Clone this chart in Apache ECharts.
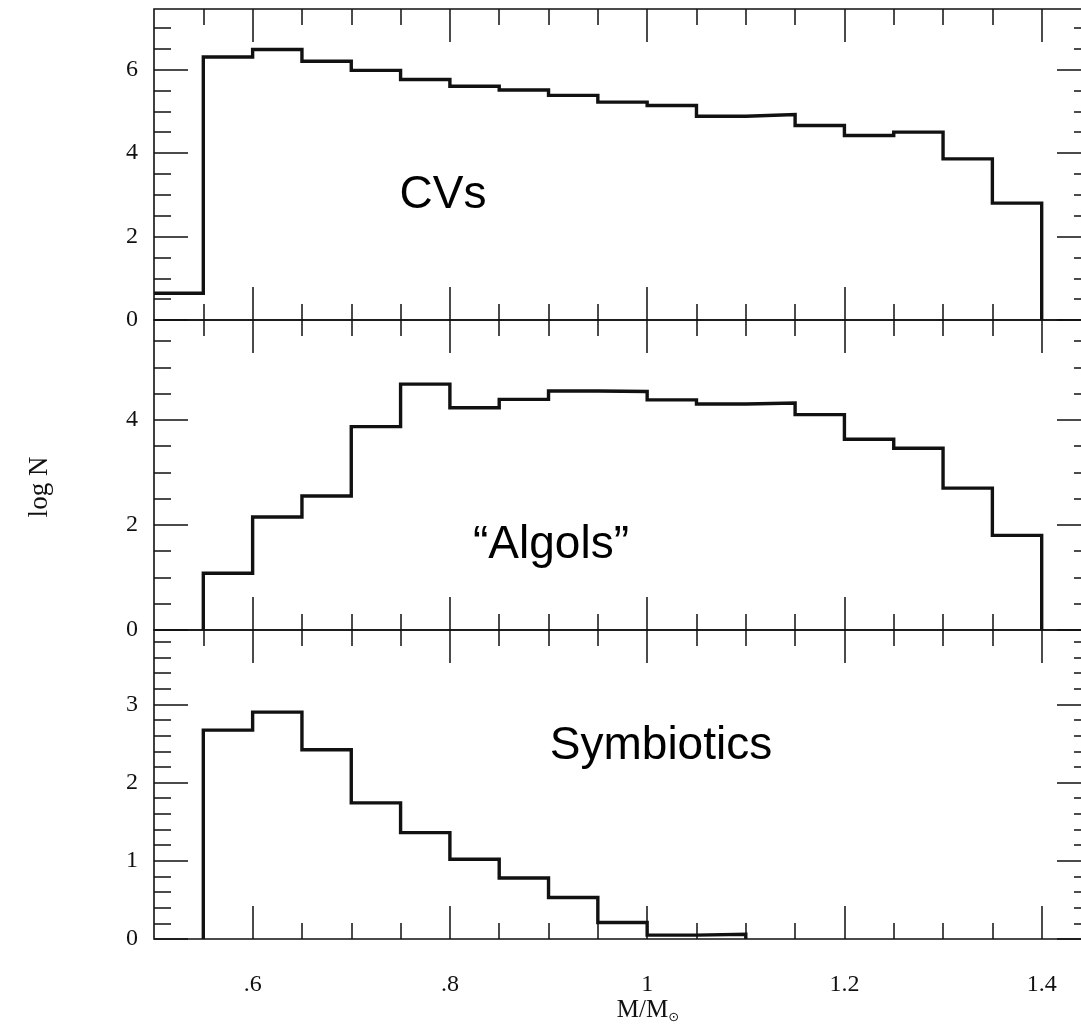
<!DOCTYPE html>
<html>
<head>
<meta charset="utf-8">
<script src="https://cdn.jsdelivr.net/npm/echarts@6/dist/echarts.min.js"></script>
<style>
html,body{margin:0;padding:0;background:#fff;}
#chart{width:1081px;height:1025px;}
</style>
</head>
<body>
<div id="chart"></div>
<script>
// ---- data (log N per 0.05 Msun bin; bin left edges) ----
const binLeft = [0.50, 0.55, 0.60, 0.65, 0.70, 0.75, 0.80, 0.85, 0.90, 0.95, 1.00, 1.05, 1.10, 1.15, 1.20, 1.25, 1.30, 1.35];
const binWidth = 0.05;
const cvsLogN        = [0.64, 6.30, 6.48, 6.20, 5.98, 5.76, 5.60, 5.51, 5.38, 5.22, 5.14, 4.88, 4.92, 4.66, 4.42, 4.50, 3.86, 2.80];
const algolsLogN     = [null, 1.08, 2.15, 2.55, 3.87, 4.68, 4.23, 4.39, 4.55, 4.54, 4.38, 4.30, 4.32, 4.10, 3.63, 3.46, 2.70, 1.80];
const symbioticsLogN = [null, 2.67, 2.90, 2.42, 1.74, 1.36, 1.02, 0.78, 0.53, 0.21, 0.05, 0.06, null, null, null, null, null, null];
const panelNames = ['CVs', '\u201CAlgols\u201D', 'Symbiotics'];

const xMin = 0.5, xMax = 1.45;
const xMajorTicks = [0.6, 0.8, 1.0, 1.2, 1.4];
const xMinorTicks = [0.55, 0.60, 0.65, 0.70, 0.75, 0.80, 0.85, 0.90, 0.95, 1.00, 1.05, 1.10, 1.15, 1.20, 1.25, 1.30, 1.35, 1.40];
const yMax = [7.45, 5.9, 3.95];
const yMajorTicks = [[0, 2, 4, 6], [0, 2, 4], [0, 1, 2, 3]];
const yMinorTicks = [
  [0.5, 1, 1.5, 2, 2.5, 3, 3.5, 4, 4.5, 5, 5.5, 6, 6.5, 7],
  [0.5, 1, 1.5, 2, 2.5, 3, 3.5, 4, 4.5, 5, 5.5],
  [0.2, 0.4, 0.6, 0.8, 1, 1.2, 1.4, 1.6, 1.8, 2, 2.2, 2.4, 2.6, 2.8, 3, 3.2, 3.4, 3.6, 3.8]
];

// ---- build step-histogram outline from bins ----
function r2(v) { return Math.round(v * 100) / 100; }
function stepPath(values) {
  const pts = [];
  let inRun = false;
  values.forEach((v, i) => {
    const lo = binLeft[i], hi = r2(lo + binWidth);
    if (v == null) {
      if (inRun) { pts.push([lo, 0]); pts.push(null); }
      inRun = false;
      return;
    }
    if (!inRun && lo > xMin) pts.push([lo, 0]);
    pts.push([lo, v], [hi, v]);
    inRun = true;
  });
  if (inRun) pts.push([r2(binLeft[binLeft.length - 1] + binWidth), 0]);
  return pts;
}

const BLACK = '#111';
const serif = 'Liberation Serif';
const grids = [
  { top: 9, height: 311 },
  { top: 320, height: 310 },
  { top: 630, height: 309 }
].map(g => Object.assign(g, { left: 154, width: 937, outerBoundsMode: 'none', containLabel: false,
  show: true, borderColor: BLACK, borderWidth: 1.6, backgroundColor: 'transparent' }));

const xAxes = [], yAxes = [];
function xLabel(v) { const s = String(r2(v)); return v < 1 ? s.replace(/^0/, '') : s; }
for (let g = 0; g < 3; g++) {
  ['bottom', 'top'].forEach(pos => {
    [[xMajorTicks, 33], [xMinorTicks, 16]].forEach(([vals, len], k) => {
      const showLab = (g === 2 && pos === 'bottom' && k === 0);
      xAxes.push({
        type: 'value', gridIndex: g, position: pos, min: xMin, max: xMax,
        axisLine: { show: false, onZero: false },
        splitLine: { show: false },
        axisTick: { show: true, inside: true, length: len, customValues: vals, lineStyle: { color: BLACK, width: 1.5 } },
        axisLabel: { show: showLab, customValues: xMajorTicks, formatter: xLabel, margin: 34,
                     fontFamily: serif, fontSize: 24, color: BLACK }
      });
    });
  });
  ['left', 'right'].forEach(pos => {
    [[yMajorTicks[g], 34], [yMinorTicks[g], 17]].forEach(([vals, len], k) => {
      const showLab = (pos === 'left' && k === 0);
      yAxes.push({
        type: 'value', gridIndex: g, position: pos, min: 0, max: yMax[g],
        axisLine: { show: false, onZero: false },
        splitLine: { show: false },
        axisTick: { show: true, inside: true, length: len, customValues: vals, lineStyle: { color: BLACK, width: 1.5 } },
        axisLabel: { show: showLab, customValues: yMajorTicks[g], margin: 16,
                     fontFamily: serif, fontSize: 24, color: BLACK }
      });
    });
  });
}

const allData = [cvsLogN, algolsLogN, symbioticsLogN];
const series = allData.map((vals, g) => ({
  type: 'line', xAxisIndex: g * 4, yAxisIndex: g * 4,
  data: stepPath(vals), symbol: 'none', connectNulls: false,
  lineStyle: { color: BLACK, width: 3.4, join: 'miter' }, silent: true
}));

const labelPos = [[443, 195], [551, 545], [661, 746]];
const graphic = panelNames.map((t, i) => ({
  type: 'text', x: labelPos[i][0], y: labelPos[i][1], silent: true,
  style: { text: t, font: '46px "Liberation Sans", Arial, sans-serif', fill: '#000', align: 'center', verticalAlign: 'middle' }
}));
graphic.push({
  type: 'text', x: 40, y: 487, rotation: Math.PI / 2, silent: true,
  style: { text: 'log N', font: '27px "Liberation Serif", serif', fill: BLACK, align: 'center', verticalAlign: 'middle' }
});
graphic.push({
  type: 'text', x: 648, y: 1010, silent: true,
  style: { text: 'M/M{s|\u2299}', font: '25px "Liberation Serif", serif', fill: BLACK, align: 'center', verticalAlign: 'middle',
           rich: { s: { fontSize: 13, fontFamily: 'DejaVu Sans', padding: [16, 0, 0, 0], fill: BLACK } } }
});

const chart = echarts.init(document.getElementById('chart'), null, { renderer: 'canvas' });
chart.setOption({
  animation: false,
  backgroundColor: '#fff',
  grid: grids,
  xAxis: xAxes,
  yAxis: yAxes,
  series: series,
  graphic: graphic
});
</script>
</body>
</html>
